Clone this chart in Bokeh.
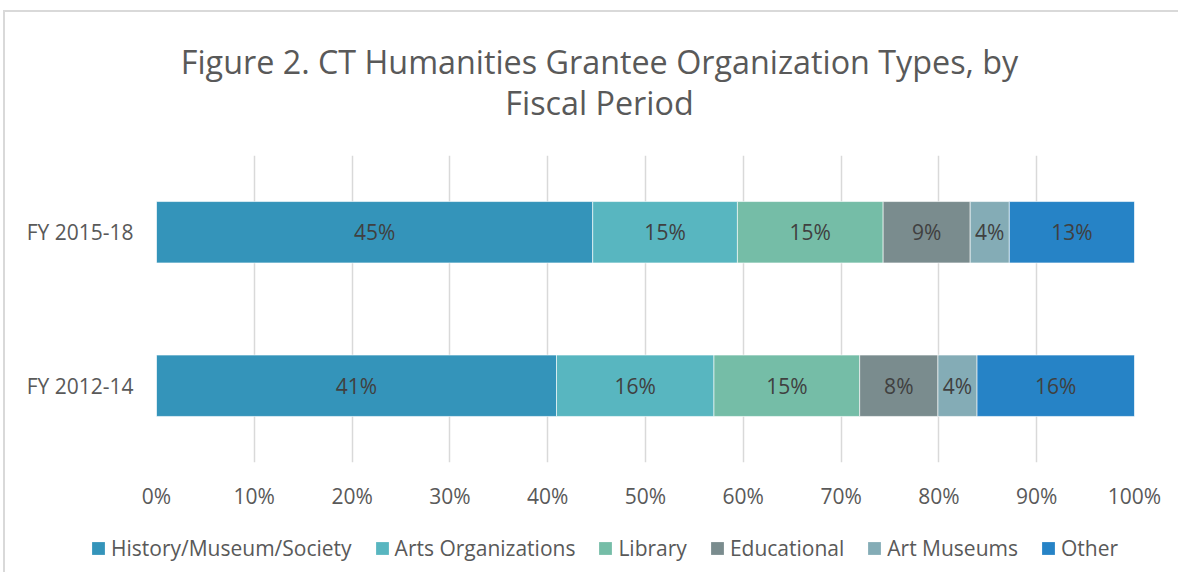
from bokeh.plotting import figure
from bokeh.layouts import column
from bokeh.models import (ColumnDataSource, Legend, LegendItem, Label, FixedTicker,
                          Range1d, FactorRange)
from bokeh.core.properties import value
from bokeh.embed import file_html
from bokeh.resources import INLINE

# ---- data ----
categories = ["FY 2012-14", "FY 2015-18"]
series = ["History/Museum/Society", "Arts Organizations", "Library",
          "Educational", "Art Museums", "Other"]
fy_2012_14 = [40.9, 16.1, 14.9, 8.0, 4.0, 16.1]
fy_2015_18 = [44.6, 14.8, 14.9, 8.9, 4.0, 12.8]
colors = ["#3494BA", "#58B6C0", "#75BDA7", "#7A8C8E", "#84ACB6", "#2683C6"]
x_ticks = [0, 10, 20, 30, 40, 50, 60, 70, 80, 90, 100]
x_tick_labels = ["0%", "10%", "20%", "30%", "40%", "50%", "60%", "70%", "80%", "90%", "100%"]
title_lines = ["Figure 2. CT Humanities Grantee Organization Types, by", "Fiscal Period"]

FONT = "Open Sans"
W = 1175
TITLE_H, MAIN_H, LEG_H = 144, 358, 60
BORDER = "2px solid #d9d9d9"


def strip(height):
    f = figure(width=W, height=height, output_backend="svg", toolbar_location=None,
               x_range=Range1d(0, W), y_range=Range1d(0, height),
               x_axis_location=None, y_axis_location=None,
               min_border_left=0, min_border_right=0, min_border_top=0, min_border_bottom=0)
    f.outline_line_color = None
    f.grid.visible = False
    f.frame_align = False
    return f


# ---- title strip ----
pt = strip(TITLE_H)
pt.margin = (10, 0, 0, 3)
pt.styles = {"border-top": BORDER, "border-left": BORDER}
for line, ypos in zip(title_lines, [96, 55]):
    pt.add_layout(Label(x=594, y=ypos, text=line, text_align="center",
                        text_baseline="middle", text_font=FONT, text_font_size="32.3px",
                        text_color="#595959"))

# ---- main chart ----
p = figure(width=W, height=MAIN_H, output_backend="svg", toolbar_location=None,
           y_range=FactorRange(*categories, range_padding=0),
           x_range=Range1d(0, 100),
           min_border_left=151, min_border_right=46,
           min_border_top=1, min_border_bottom=49)
p.frame_align = False
p.margin = (0, 0, 0, 3)
p.styles = {"border-left": BORDER}
p.outline_line_color = None

rows = [fy_2012_14, fy_2015_18]
left = [0.0 for _ in categories]
lab_x, lab_y, lab_t = [], [], []
for i, name in enumerate(series):
    vals = [r[i] for r in rows]
    right = [l + v for l, v in zip(left, vals)]
    src = ColumnDataSource(dict(y=categories, left=left, right=right))
    p.hbar(y="y", left="left", right="right", height=0.4, source=src,
           fill_color=colors[i], line_color="white", line_width=1, line_alpha=0.6)
    for c, l, v in zip(categories, left, vals):
        lab_x.append(l + v / 2)
        lab_y.append(c)
        lab_t.append(f"{round(v)}%")
    left = right

lsrc = ColumnDataSource(dict(x=lab_x, y=lab_y, t=lab_t))
p.text(x="x", y="y", text="t", source=lsrc, text_align="center",
       text_baseline="middle", text_color="#404040",
       text_font=value(FONT), text_font_size="21px")

p.xaxis.ticker = FixedTicker(ticks=x_ticks)
p.xaxis.major_label_overrides = {t: s for t, s in zip(x_ticks, x_tick_labels)}
for ax in (p.xaxis[0], p.yaxis[0]):
    ax.axis_line_color = None
    ax.major_tick_line_color = None
    ax.minor_tick_line_color = None
    ax.major_label_text_font = FONT
    ax.major_label_text_font_size = "21px"
    ax.major_label_text_color = "#595959"
p.xaxis.major_label_standoff = 13
p.yaxis.major_label_standoff = 17

p.xgrid.ticker = FixedTicker(ticks=x_ticks)
p.xgrid.grid_line_color = "#d9d9d9"
p.xgrid.grid_line_width = 1.5
p.ygrid.grid_line_color = None

# ---- legend strip ----
pl = strip(LEG_H)
pl.margin = (0, 0, 0, 3)
pl.styles = {"border-left": BORDER}
leg_renderers = []
for i, name in enumerate(series):
    r = pl.hbar(y=[0], left=[0], right=[0], height=0,
                fill_color=colors[i], line_color=None)
    leg_renderers.append(r)

legend = Legend(items=[LegendItem(label=s, renderers=[r]) for s, r in zip(series, leg_renderers)],
                orientation="horizontal", location=(85, 10),
                glyph_width=16, glyph_height=16, label_standoff=5, spacing=22,
                padding=0, margin=0, border_line_color=None, background_fill_alpha=0,
                label_text_font=FONT, label_text_font_size="21px",
                label_text_color="#595959")
pl.add_layout(legend, "center")

layout = column(pt, p, pl, spacing=0)
open("out.html", "w").write(file_html(layout, INLINE))
